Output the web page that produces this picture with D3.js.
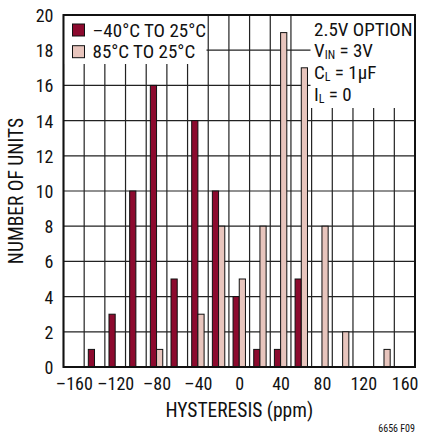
<!DOCTYPE html>
<html>
<head>
<meta charset="utf-8">
<script src="https://cdn.jsdelivr.net/npm/d3@7"></script>
<style>
  body { margin: 0; background: #fff; }
  svg text { font-family: "Liberation Sans Narrow", "Roboto Condensed", "DejaVu Sans Condensed", sans-serif; fill: #111; }
</style>
</head>
<body>
<svg></svg>
<script>
//Set Dimensions of svg
var width = 421;
var height = 437;
var svg = d3.select('svg')
            .attr('width', width)
            .attr('height', height);

//Bin centres (ppm) and counts for both series
var bins = [-160, -140, -120, -100, -80, -60, -40, -20, 0, 20, 40, 60, 80, 100, 120, 140, 160];
var coldCounts = [0, 1, 3, 10, 16, 5, 14, 10, 4, 1, 1, 5, 0, 0, 0, 0, 0];
var hotCounts  = [0, 0, 0, 0, 1, 0, 3, 8, 5, 8, 19, 17, 8, 2, 0, 1, 0];
var xTicks = [-160, -120, -80, -40, 0, 40, 80, 120, 160];
var yTicks = [0, 2, 4, 6, 8, 10, 12, 14, 16, 18, 20];
var seriesNames = ['\u201340\u00B0C TO 25\u00B0C', '85\u00B0C TO 25\u00B0C'];
var colors = ['#8c0a2e', '#e8c5bd'];

var margin = {left: 63.5, right: 6, top: 15, bottom: 70};
var plotW = width - margin.left - margin.right;
var plotH = height - margin.top - margin.bottom;

//Scales - bins are 20 ppm wide, so the grid sits on the bin edges
var x = d3.scaleLinear().domain([-170, 170]).range([0, plotW]);
var y = d3.scaleLinear().domain([0, 20]).range([plotH, 0]);
var barW = (x(20) - x(0)) * 0.3;

var g = svg.append('g').attr('transform', 'translate(' + margin.left + ',' + margin.top + ')');

//Grid lines
g.append('g')
  .selectAll('line')
  .data(d3.range(-170, 171, 20))
  .enter()
  .append('line')
  .attr('x1', d => x(d)).attr('x2', d => x(d))
  .attr('y1', 0).attr('y2', plotH)
  .attr('stroke', '#222').attr('stroke-width', 1.2);

g.append('g')
  .selectAll('line')
  .data(yTicks)
  .enter()
  .append('line')
  .attr('x1', 0).attr('x2', plotW)
  .attr('y1', d => y(d)).attr('y2', d => y(d))
  .attr('stroke', '#222').attr('stroke-width', 1.2);

//White boxes behind legend and notes
g.append('rect').attr('x', 0).attr('y', 0).attr('width', 143).attr('height', 49).attr('fill', '#fff');
g.append('rect').attr('x', 247).attr('y', 0).attr('width', plotW - 247).attr('height', 93).attr('fill', '#fff');

//Bars
var rows = bins.map((b, i) => ({bin: b, cold: coldCounts[i], hot: hotCounts[i]}));

g.append('g')
  .selectAll('rect')
  .data(rows.filter(d => d.cold > 0))
  .enter()
  .append('rect')
  .attr('x', d => x(d.bin) - barW)
  .attr('y', d => y(d.cold))
  .attr('width', barW)
  .attr('height', d => y(0) - y(d.cold))
  .attr('fill', colors[0])
  .attr('stroke', '#111').attr('stroke-width', 1);

g.append('g')
  .selectAll('rect')
  .data(rows.filter(d => d.hot > 0))
  .enter()
  .append('rect')
  .attr('x', d => x(d.bin))
  .attr('y', d => y(d.hot))
  .attr('width', barW)
  .attr('height', d => y(0) - y(d.hot))
  .attr('fill', colors[1])
  .attr('stroke', '#111').attr('stroke-width', 1);

//Frame
g.append('rect').attr('width', plotW).attr('height', plotH)
  .attr('fill', 'none').attr('stroke', '#111').attr('stroke-width', 2);

//Axes (labels only, the grid does the lines)
var xAxis = g.append('g')
  .attr('transform', 'translate(0,' + plotH + ')')
  .call(d3.axisBottom(x).tickValues(xTicks).tickSize(0).tickPadding(10)
        .tickFormat(d => d < 0 ? '\u2013' + Math.abs(d) : d));
xAxis.select('.domain').remove();
xAxis.selectAll('text').style('font-size', '18px').attr('fill', '#111');

var yAxis = g.append('g')
  .call(d3.axisLeft(y).tickValues(yTicks).tickSize(0).tickPadding(10));
yAxis.select('.domain').remove();
yAxis.selectAll('text').style('font-size', '18px').attr('fill', '#111').attr('dy', '0.36em');

//Legend
var legend = g.append('g').attr('transform', 'translate(9,9)');
seriesNames.forEach(function(name, i) {
  legend.append('rect')
    .attr('x', 0).attr('y', i * 21.7)
    .attr('width', 12).attr('height', 12)
    .attr('fill', colors[i]).attr('stroke', '#111').attr('stroke-width', 1);
  legend.append('text')
    .attr('x', 20).attr('y', i * 21.7 + 12.5)
    .style('font-size', '19px')
    .text(name);
});

//Conditions note
var note = svg.append('text').style('font-size', '19px');
note.append('tspan').attr('x', 314).attr('y', 35.5).text('2.5V OPTION');
note.append('tspan').attr('x', 314).attr('y', 56.7).text('V');
note.append('tspan').attr('dy', 2.5).style('font-size', '12px').text('IN');
note.append('tspan').attr('dy', -2.5).text(' = 3V');
note.append('tspan').attr('x', 314).attr('y', 78.5).text('C');
note.append('tspan').attr('dy', 2.5).style('font-size', '12px').text('L');
note.append('tspan').attr('dy', -2.5).text(' = 1\u00B5F');
note.append('tspan').attr('x', 314).attr('y', 100.5).text('I');
note.append('tspan').attr('dy', 2.5).style('font-size', '12px').text('L');
note.append('tspan').attr('dy', -2.5).text(' = 0');

//Axis titles
svg.append('text')
  .attr('x', margin.left + x(0)).attr('y', 417)
  .attr('text-anchor', 'middle')
  .style('font-size', '19.5px')
  .text('HYSTERESIS (ppm)');

svg.append('text')
  .attr('transform', 'translate(23,' + (margin.top + y(10)) + ') rotate(-90)')
  .attr('text-anchor', 'middle')
  .style('font-size', '19.5px')
  .text('NUMBER OF UNITS');

svg.append('text')
  .attr('x', 415).attr('y', 431.5)
  .attr('text-anchor', 'end')
  .style('font-size', '10px')
  .text('6656 F09');
</script>
</body>
</html>
